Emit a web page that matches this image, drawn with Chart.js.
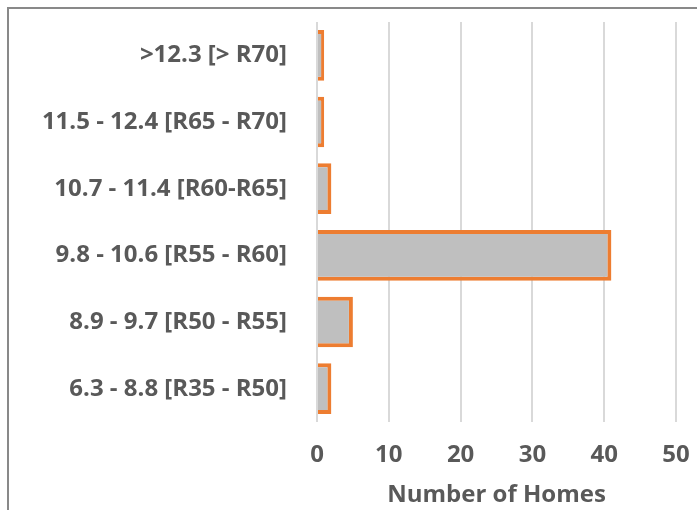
<!DOCTYPE html>
<html>
<head>
<meta charset="utf-8">
<script src="https://cdn.jsdelivr.net/npm/chart.js@4"></script>
<style>
  html, body { margin: 0; padding: 0; background: #fff; }
  #wrap { position: relative; width: 697px; height: 510px; overflow: hidden; }
  #frame { position: absolute; left: 7px; top: 7px; width: 720px; height: 540px;
           border-left: 2px solid #898989; border-top: 2px solid #898989; }
  canvas { position: absolute; left: 0; top: 0; }
</style>
</head>
<body>
<div id="wrap">
  <div id="frame"></div>
  <canvas id="myChart" width="697" height="510"></canvas>
</div>
<script>
const categories = [
    '>12.3 [> R70]',
    '11.5 - 12.4 [R65 - R70]',
    '10.7 - 11.4 [R60-R65]',
    '9.8 - 10.6 [R55 - R60]',
    '8.9 - 9.7 [R50 - R55]',
    '6.3 - 8.8 [R35 - R50]'
];
const homes = [1, 1, 2, 41, 5, 2];
const xTicks = [0, 10, 20, 30, 40, 50];

const textColor = '#595959';
const fontFamily = '"Open Sans", Lato, sans-serif';
const labelFont = { family: fontFamily, size: 24, weight: 'bold' };

const ctx = document.getElementById('myChart').getContext('2d');
new Chart(ctx, {
    type: 'bar',
    data: {
        labels: categories,
        datasets: [{
            label: 'Number of Homes',
            data: homes,
            backgroundColor: '#BFBFBF',
            borderColor: '#ED7D31',
            borderWidth: 4,
            barPercentage: 0.76,
            categoryPercentage: 1.0
        }]
    },
    options: {
        indexAxis: 'y',
        responsive: false,
        animation: false,
        layout: { padding: { top: 22, right: 21, left: 0, bottom: 0 } },
        plugins: {
            legend: { display: false },
            tooltip: { enabled: false }
        },
        scales: {
            x: {
                min: 0,
                max: 50,
                afterBuildTicks: scale => { scale.ticks = xTicks.map(v => ({ value: v })); },
                grid: { color: '#D9D9D9', lineWidth: 2, drawTicks: false },
                border: { display: false },
                ticks: { color: textColor, font: labelFont, padding: 19 },
                title: {
                    display: true,
                    text: 'Number of Homes',
                    color: textColor,
                    font: labelFont,
                    padding: { top: 8, bottom: 0 }
                },
                afterFit: scale => {
                    scale.height = 88;
                    scale.paddingLeft = 0;
                    scale.paddingRight = 0;
                }
            },
            y: {
                grid: { display: false },
                border: { display: false },
                ticks: { color: textColor, font: labelFont, padding: 22 },
                afterFit: scale => {
                    scale.width = 317;
                    scale.paddingTop = 0;
                    scale.paddingBottom = 0;
                }
            }
        }
    }
});
</script>
</body>
</html>
